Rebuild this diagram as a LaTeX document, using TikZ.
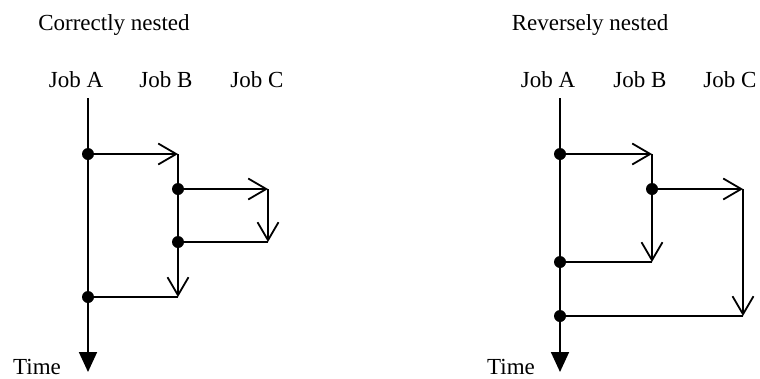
\documentclass[tikz,border=0pt]{standalone}
\usepackage{fontspec}
\setmainfont{Liberation Serif}
\usetikzlibrary{arrows.meta}

\tikzset{
  lbl/.style={inner sep=0pt, font=\fontsize{23}{27}\selectfont},
  flow/.style={line width=1.8pt, -{Straight Barb[length=18pt,width=21pt]}},
  link/.style={line width=1.8pt},
  timeline/.style={line width=1.8pt, -{Triangle[length=20pt,width=18pt]}},
  dot/.style={circle, fill, inner sep=0pt, minimum size=12pt}
}

\begin{document}
\begin{tikzpicture}[x=1pt,y=-1pt]
  \useasboundingbox (0,0) rectangle (760,378);

  % ---- Correctly nested ----
  \node[lbl] (ltitle) at (114,25) {Correctly nested};
  \node[lbl] (ljoba) at (76,80) {Job A};
  \node[lbl] (ljobb) at (166,80) {Job B};
  \node[lbl] (ljobc) at (257,80) {Job C};
  \node[lbl] (ltime) at (37,367) {Time};

  % points on the job lines
  \coordinate (la0) at (88,98);
  \coordinate (lend) at (88,372);
  \coordinate (lb0) at (178,154);
  \coordinate (lb3) at (178,297);
  \coordinate (lc0) at (268,189);
  \coordinate (lc1) at (268,242);
  \node[dot] (la1) at (88,154) {};
  \node[dot] (la3) at (88,297) {};
  \node[dot] (lb1) at (178,189) {};
  \node[dot] (lb2) at (178,242) {};

  \draw[timeline] (la0) -- (lend);
  \draw[flow] (la1.center) -- (lb0);
  \draw[flow] (lb0) -- (lb3);
  \draw[link] (lb3) -- (la3.center);
  \draw[flow] (lb1.center) -- (lc0);
  \draw[flow] (lc0) -- (lc1);
  \draw[link] (lc1) -- (lb2.center);

  % ---- Reversely nested ----
  \node[lbl] (rtitle) at (590,25) {Reversely nested};
  \node[lbl] (rjoba) at (548,80) {Job A};
  \node[lbl] (rjobb) at (640,80) {Job B};
  \node[lbl] (rjobc) at (730,80) {Job C};
  \node[lbl] (rtime) at (511,367) {Time};

  \coordinate (ra0) at (560,98);
  \coordinate (rend) at (560,372);
  \coordinate (rb0) at (652,154);
  \coordinate (rb2) at (652,262);
  \coordinate (rc0) at (743,189);
  \coordinate (rc1) at (743,316);
  \node[dot] (ra1) at (560,154) {};
  \node[dot] (ra2) at (560,262) {};
  \node[dot] (ra3) at (560,316) {};
  \node[dot] (rb1) at (652,189) {};

  \draw[timeline] (ra0) -- (rend);
  \draw[flow] (ra1.center) -- (rb0);
  \draw[flow] (rb0) -- (rb2);
  \draw[link] (rb2) -- (ra2.center);
  \draw[flow] (rb1.center) -- (rc0);
  \draw[flow] (rc0) -- (rc1);
  \draw[link] (rc1) -- (ra3.center);
\end{tikzpicture}
\end{document}
